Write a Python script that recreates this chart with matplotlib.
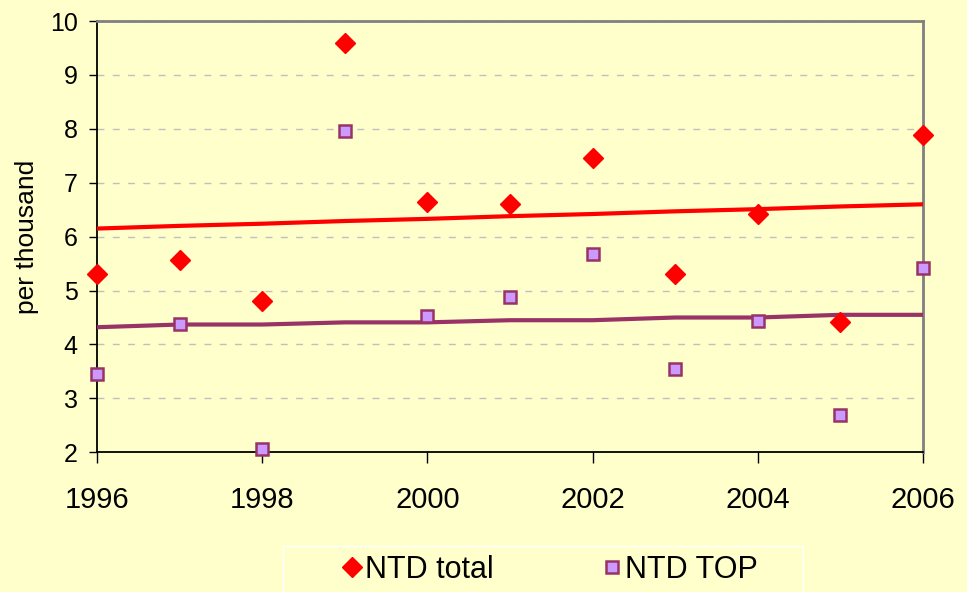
import matplotlib
matplotlib.use("Agg")
import matplotlib.pyplot as plt
from matplotlib.patches import Rectangle

# ---------------------------------------
# Data
# ---------------------------------------
years = [1996, 1997, 1998, 1999, 2000, 2001, 2002, 2003, 2004, 2005, 2006]
ntd_total = [5.31, 5.57, 4.81, 9.59, 6.64, 6.60, 7.45, 5.31, 6.42, 4.41, 7.89]
ntd_top = [3.45, 4.38, 2.07, 7.96, 4.53, 4.88, 5.68, 3.54, 4.43, 2.69, 5.42]
trend_total = [6.15, 6.20, 6.24, 6.29, 6.33, 6.38, 6.42, 6.47, 6.51, 6.56, 6.60]
trend_top = [4.32, 4.37, 4.37, 4.41, 4.41, 4.45, 4.45, 4.50, 4.50, 4.55, 4.55]
x_ticks = [1996, 1998, 2000, 2002, 2004, 2006]
y_ticks = [2, 3, 4, 5, 6, 7, 8, 9, 10]

bg = "#FFFFCC"
plt.rcParams["font.family"] = ["Liberation Sans", "DejaVu Sans"]

fig = plt.figure(figsize=(9.67, 5.92), dpi=100, facecolor=bg)
ax = fig.add_axes([0.1003, 0.236, 0.8542, 0.7285], facecolor=bg)

# trend lines
ax.plot(years, trend_total, color="#FF0000", lw=3, zorder=3)
ax.plot(years, trend_top, color="#993366", lw=3, zorder=3)

# markers
ax.plot(years, ntd_total, ls="none", marker="D", ms=10.5, color="#FF0000",
        mec="#FF0000", label="NTD total", zorder=4, clip_on=False)
ax.plot(years, ntd_top, ls="none", marker="s", ms=8.5, mfc="#CC99FF",
        mec="#993366", mew=1.8, label="NTD TOP", zorder=4, clip_on=False)

# ---------------------------------------
# Axes styling
# ---------------------------------------
ax.set_xlim(1996, 2006)
ax.set_ylim(2, 10)
ax.set_xticks(x_ticks)
ax.set_yticks(y_ticks)
ax.tick_params(axis="x", labelsize=21, length=8, width=1, pad=16, direction="out")
ax.tick_params(axis="y", labelsize=18, length=6, width=1, pad=8, direction="out")
ax.yaxis.grid(True, color="#C0C0C0", ls=(0, (5, 6)), lw=1)
ax.set_axisbelow(True)

ax.spines["left"].set_color("black")
ax.spines["bottom"].set_color("black")
ax.spines["left"].set_linewidth(1.3)
ax.spines["bottom"].set_linewidth(1.3)
ax.spines["top"].set_color("#808080")
ax.spines["right"].set_color("#808080")
ax.spines["top"].set_linewidth(2)
ax.spines["right"].set_linewidth(2)

ax.set_ylabel("per thousand", fontsize=19, labelpad=8)

# ---------------------------------------
# Legend (box drawn separately, runs off the bottom edge)
# ---------------------------------------
fig.patches.append(Rectangle((283 / 967, -0.05), 520 / 967, 46 / 592 + 0.05,
                             transform=fig.transFigure, fill=False,
                             ec="white", lw=1))
leg = fig.legend(loc="center left", bbox_to_anchor=(341 / 967, 1 - 570 / 592),
                 ncol=2, fontsize=22, frameon=False, borderpad=0,
                 borderaxespad=0, handlelength=0.7, handletextpad=0.1,
                 columnspacing=3.5)

fig.savefig("out.png", dpi=100, facecolor=bg)
